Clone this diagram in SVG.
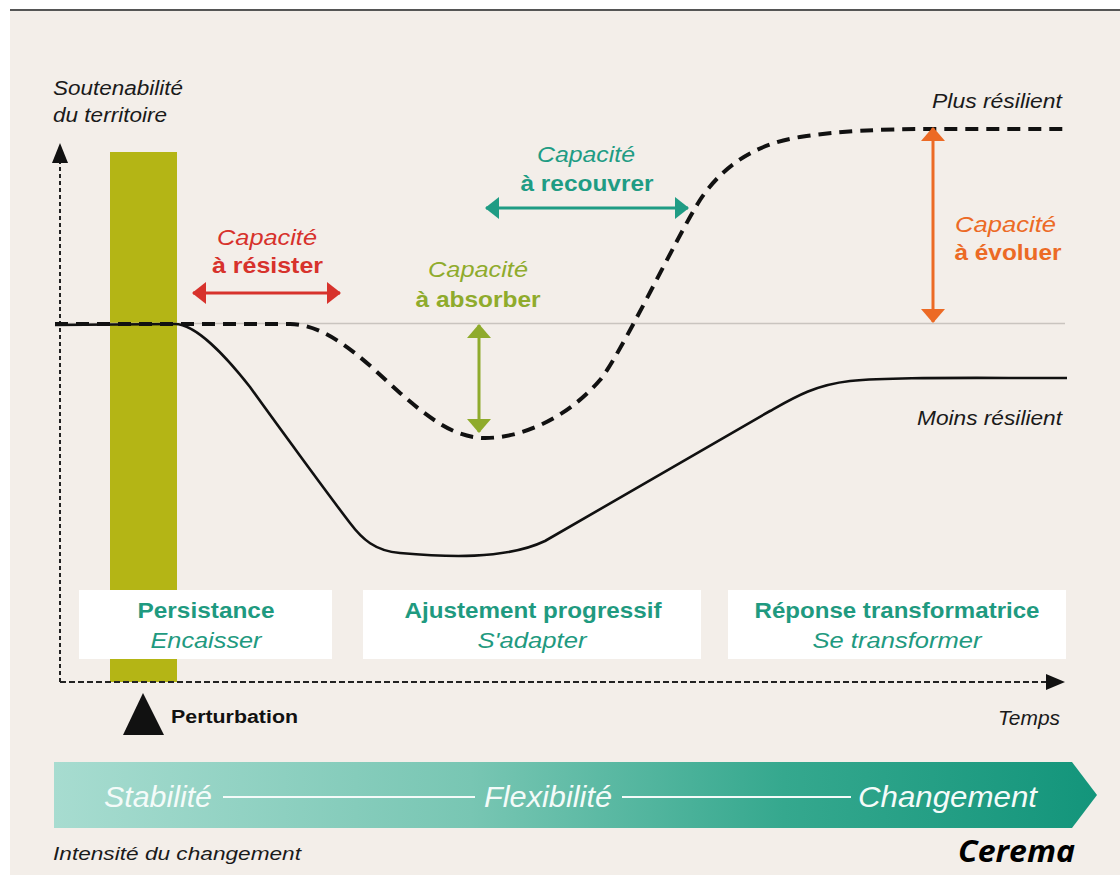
<svg xmlns="http://www.w3.org/2000/svg" width="1120" height="875" viewBox="0 0 1120 875">
<defs>
<style>
.it{font-family:"Liberation Sans",Arial,sans-serif;font-style:italic}
.bd{font-family:"Liberation Sans",Arial,sans-serif;font-weight:bold}
.lbl{font-size:20px;fill:#1a1a1a}
.cap{font-size:22px}
.box{fill:#ffffff}
.boxt{fill:#1f9a80;font-size:22px}
.band{fill:#f4fbf9;font-size:29px}
.axis{stroke:#222;stroke-width:2;fill:none}
</style>
<linearGradient id="bandGrad" gradientUnits="userSpaceOnUse" x1="54" y1="0" x2="1097" y2="0">
<stop offset="0" stop-color="#a7dcd0"/>
<stop offset="0.4" stop-color="#78c6b3"/>
<stop offset="0.7" stop-color="#35a88e"/>
<stop offset="1" stop-color="#13957b"/>
</linearGradient>
<marker id="mRed" markerUnits="userSpaceOnUse" viewBox="0 0 14 22" markerWidth="14" markerHeight="22" refX="13" refY="11" orient="auto-start-reverse"><path d="M0,0 L14,11 L0,22 Z" fill="#d7322c"/></marker>
<marker id="mTeal" markerUnits="userSpaceOnUse" viewBox="0 0 14 22" markerWidth="14" markerHeight="22" refX="13" refY="11" orient="auto-start-reverse"><path d="M0,0 L14,11 L0,22 Z" fill="#1f9c84"/></marker>
<marker id="mGreen" markerUnits="userSpaceOnUse" viewBox="0 0 14 24" markerWidth="14" markerHeight="24" refX="13" refY="12" orient="auto-start-reverse"><path d="M0,0 L14,12 L0,24 Z" fill="#8fab2c"/></marker>
<marker id="mOrange" markerUnits="userSpaceOnUse" viewBox="0 0 14 24" markerWidth="14" markerHeight="24" refX="13" refY="12" orient="auto-start-reverse"><path d="M0,0 L14,12 L0,24 Z" fill="#ec6a25"/></marker>
<marker id="mAxis" markerUnits="userSpaceOnUse" viewBox="0 0 20 16" markerWidth="20" markerHeight="16" refX="19" refY="8" orient="auto"><path d="M0,0 L20,8 L0,16 Z" fill="#111"/></marker>
</defs>

<!-- background -->
<rect x="0" y="0" width="1120" height="875" fill="#ffffff"/>
<rect x="10" y="11" width="1110" height="864" fill="#f3eee9"/>
<line x1="10" y1="10" x2="1120" y2="10" stroke="#555" stroke-width="2"/>

<!-- perturbation bar -->
<g id="perturbation-bar">
<rect x="110" y="152" width="67" height="530" fill="#b4b515"/>
</g>

<!-- phase boxes -->
<g id="phase-persistance">
<rect class="box" x="79" y="590" width="253" height="69"/>
<text class="bd boxt" x="206" y="618" text-anchor="middle" textLength="137" lengthAdjust="spacingAndGlyphs">Persistance</text>
<text class="it boxt" x="206" y="648" text-anchor="middle" textLength="111" lengthAdjust="spacingAndGlyphs">Encaisser</text>
</g>
<g id="phase-ajustement">
<rect class="box" x="363" y="590" width="338" height="69"/>
<text class="bd boxt" x="533" y="618" text-anchor="middle" textLength="257" lengthAdjust="spacingAndGlyphs">Ajustement progressif</text>
<text class="it boxt" x="532" y="648" text-anchor="middle" textLength="109" lengthAdjust="spacingAndGlyphs">S'adapter</text>
</g>
<g id="phase-reponse">
<rect class="box" x="728" y="590" width="338" height="69"/>
<text class="bd boxt" x="897" y="618" text-anchor="middle" textLength="285" lengthAdjust="spacingAndGlyphs">Réponse transformatrice</text>
<text class="it boxt" x="897" y="648" text-anchor="middle" textLength="169" lengthAdjust="spacingAndGlyphs">Se transformer</text>
</g>

<!-- reference line -->
<line x1="60" y1="323.5" x2="1065" y2="323.5" stroke="#c9c4bf" stroke-width="1.3"/>

<!-- axes -->
<g id="axes">
<path class="axis" d="M60,682 L60,162" stroke-dasharray="4 3"/>
<path d="M52,163 L60,143 L68,163 Z" fill="#111"/>
<path class="axis" d="M60,682 L1048,682" stroke-dasharray="6 3" stroke="#333"/>
<path d="M1046,674 L1065,682 L1046,690 Z" fill="#111"/>
</g>

<!-- curves -->
<g id="curves">
<path id="curve-moins" fill="none" stroke="#111" stroke-width="2.6" d="M55,325 L175,324 C195,324 225,355 250,387 C270,415 330,497 350,523 C362,539 375,551 400,553 C445,557 505,560 545,541 L770,411 C795,397 815,385 850,381 C890,377 950,378 1067,378"/>
<path id="curve-plus" fill="none" stroke="#111" stroke-width="4" stroke-dasharray="13 8" d="M55,324 L290,324 C330,324 370,366 400,393 C430,419 455,438 485,438 C525,438 570,415 600,380 C620,356 675,240 700,200 C720,170 750,145 800,137 C840,131 880,129 930,129 L1063,129"/>
</g>

<!-- connectors: capacity arrows -->
<g id="connectors">
<line x1="193" y1="293" x2="340" y2="293" stroke="#d7322c" stroke-width="3" marker-start="url(#mRed)" marker-end="url(#mRed)"/>
<line x1="486" y1="208" x2="688" y2="208" stroke="#1f9c84" stroke-width="3" marker-start="url(#mTeal)" marker-end="url(#mTeal)"/>
<line x1="479" y1="325" x2="479" y2="432" stroke="#8fab2c" stroke-width="3" marker-start="url(#mGreen)" marker-end="url(#mGreen)"/>
<line x1="933" y1="128" x2="933" y2="322" stroke="#ec6a25" stroke-width="3" marker-start="url(#mOrange)" marker-end="url(#mOrange)"/>
</g>

<!-- labels -->
<g id="label-yaxis">
<text class="it lbl" x="53" y="95" textLength="130" lengthAdjust="spacingAndGlyphs">Soutenabilité</text>
<text class="it lbl" x="53" y="122" textLength="114" lengthAdjust="spacingAndGlyphs">du territoire</text>
</g>
<g id="capacite-resister" fill="#d7322c">
<text class="it cap" x="267" y="245" text-anchor="middle" textLength="100" lengthAdjust="spacingAndGlyphs">Capacité</text>
<text class="bd cap" x="267.5" y="273" text-anchor="middle" textLength="111" lengthAdjust="spacingAndGlyphs">à résister</text>
</g>
<g id="capacite-recouvrer" fill="#1f9c84">
<text class="it cap" x="586" y="162" text-anchor="middle" textLength="98" lengthAdjust="spacingAndGlyphs">Capacité</text>
<text class="bd cap" x="587" y="191" text-anchor="middle" textLength="133" lengthAdjust="spacingAndGlyphs">à recouvrer</text>
</g>
<g id="capacite-absorber" fill="#8fab2c">
<text class="it cap" x="478" y="277" text-anchor="middle" textLength="100" lengthAdjust="spacingAndGlyphs">Capacité</text>
<text class="bd cap" x="478" y="307" text-anchor="middle" textLength="125" lengthAdjust="spacingAndGlyphs">à absorber</text>
</g>
<g id="capacite-evoluer" fill="#ec6a25">
<text class="it cap" x="1005.5" y="232" text-anchor="middle" textLength="101" lengthAdjust="spacingAndGlyphs">Capacité</text>
<text class="bd cap" x="1008" y="260" text-anchor="middle" textLength="107" lengthAdjust="spacingAndGlyphs">à évoluer</text>
</g>
<g id="label-plus">
<text class="it lbl" x="1062" y="108" text-anchor="end" textLength="130" lengthAdjust="spacingAndGlyphs">Plus résilient</text>
</g>
<g id="label-moins">
<text class="it lbl" x="1062" y="425" text-anchor="end" textLength="145" lengthAdjust="spacingAndGlyphs">Moins résilient</text>
</g>
<g id="perturbation">
<path d="M123,735 L143,693 L164,735 Z" fill="#111"/>
<text class="bd" x="171" y="723" font-size="18" fill="#111" textLength="127" lengthAdjust="spacingAndGlyphs">Perturbation</text>
</g>
<g id="label-temps">
<text class="it lbl" x="1060" y="725" text-anchor="end" textLength="62" lengthAdjust="spacingAndGlyphs">Temps</text>
</g>

<!-- change intensity band -->
<g id="band">
<path d="M54,762 L1072,762 L1097,795 L1072,828 L54,828 Z" fill="url(#bandGrad)"/>
<text class="it band" x="104" y="807" textLength="108" lengthAdjust="spacingAndGlyphs">Stabilité</text>
<line x1="223" y1="797" x2="475" y2="797" stroke="#f4fbf9" stroke-width="1.8"/>
<text class="it band" x="484" y="807" textLength="128" lengthAdjust="spacingAndGlyphs">Flexibilité</text>
<line x1="622" y1="797" x2="851" y2="797" stroke="#f4fbf9" stroke-width="1.8"/>
<text class="it band" x="858" y="807" textLength="179" lengthAdjust="spacingAndGlyphs">Changement</text>
</g>
<g id="label-intensite">
<text class="it" x="53" y="860" font-size="18" fill="#1a1a1a" textLength="248" lengthAdjust="spacingAndGlyphs">Intensité du changement</text>
</g>
<g id="label-cerema">
<text x="958" y="862" font-family="'Open Sans','Liberation Sans',sans-serif" font-style="italic" font-weight="bold" font-size="30" fill="#000" textLength="117" lengthAdjust="spacingAndGlyphs">Cerema</text>
</g>
</svg>
